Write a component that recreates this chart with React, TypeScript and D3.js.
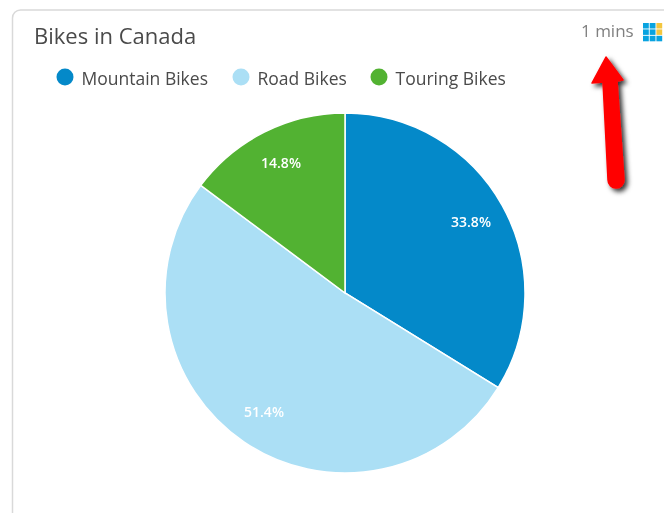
import React from "react";
import * as d3 from "d3";

const categories = ["Mountain Bikes", "Road Bikes", "Touring Bikes"];
const shares = [33.8, 51.4, 14.8];
const colors = ["#0489c9", "#abdff5", "#52b232"];
const labelColor = "#ffffff";
const title = "Bikes in Canada";
const refreshText = "1 mins";
const iconCells = [
  [0, 0, "#08a3e0"], [1, 0, "#08a3e0"], [2, 0, "#f3c63f"],
  [0, 1, "#08a3e0"], [1, 1, "#08a3e0"], [2, 1, "#f3c63f"],
  [0, 2, "#08a3e0"], [1, 2, "#08a3e0"], [2, 2, "#08a3e0"],
] as const;
const legendX = [65, 241, 379];
const labelPos = [[471, 222], [264, 412], [281, 163]];

export default function App() {
  const cx = 345, cy = 293, r = 180;
  const pie = d3.pie<number>().sort(null).startAngle(0).endAngle(2 * Math.PI);
  const arc = d3.arc<d3.PieArcDatum<number>>().innerRadius(0).outerRadius(r);
  const arcs = pie(shares);
  const font = "'Open Sans','Noto Sans',sans-serif";
  return (
    <svg width={664} height={513} style={{ position: "fixed", left: 0, top: 0, background: "#fff", filter: "blur(0.4px)" }}>
      <defs>
        <filter id="sh" x="-50%" y="-20%" width="200%" height="140%">
          <feDropShadow dx="3" dy="3" stdDeviation="2.5" floodColor="#000" floodOpacity="0.8" />
        </filter>
      </defs>
      <path d="M12.5,513 V18 a8,8 0 0 1 8,-8 H664" fill="none" stroke="#d9d9d9" strokeWidth={1.5} />
      <text x={34} y={44} fontFamily={font} fontSize={22} fill="#4a4a4a">{title}</text>
      {categories.map((c, i) => (
        <g key={c}>
          <circle cx={legendX[i]} cy={77} r={8.5} fill={colors[i]} />
          <text x={legendX[i] + 16.5} y={85} fontFamily={font} fontSize={17.5} fill="#4a4a4a">{c}</text>
        </g>
      ))}
      <g transform={`translate(${cx},${cy})`}>
        {arcs.map((a, i) => (
          <path key={i} d={arc(a) ?? ""} fill={colors[i]} stroke="#fff" strokeWidth={1.5} />
        ))}
      </g>
      {shares.map((s, i) => (
        <text key={i} x={labelPos[i][0]} y={labelPos[i][1]} dy="0.35em" textAnchor="middle" fontFamily={font} fontSize={14} fontWeight={600} fill={labelColor}>{s.toFixed(1)}%</text>
      ))}
      <text x={581} y={37} fontFamily={font} fontSize={17} fill="#808080">{refreshText}</text>
      {iconCells.map(([x, y, col], i) => (
        <rect key={i} x={643 + x * 6.7} y={23 + y * 6.4} width={5.8} height={5.5} fill={col as string} />
      ))}
      <path d="M606,57 L592,83 L603,82 L608,180 A8,8 0 0 0 624,180 L617,81 L623,80 Z" fill="#f00" stroke="#f00" strokeWidth={1.5} strokeLinejoin="round" filter="url(#sh)" />
    </svg>
  );
}
